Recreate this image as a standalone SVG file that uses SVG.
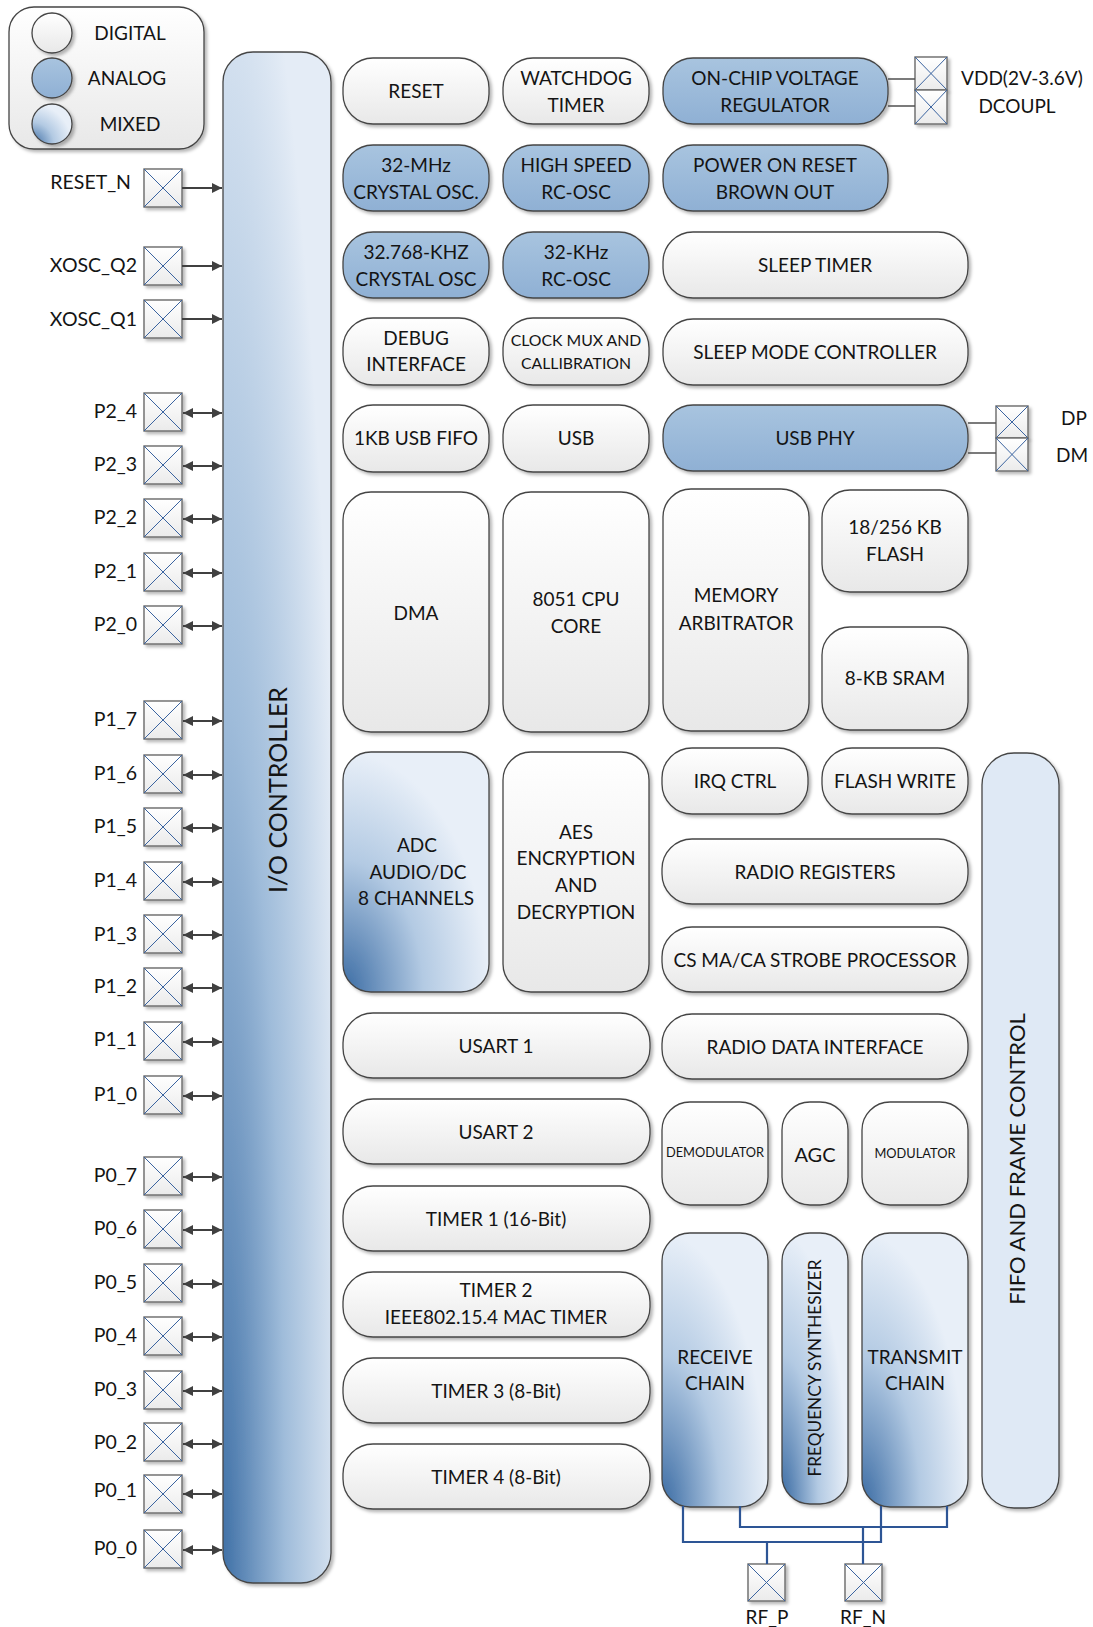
<svg xmlns="http://www.w3.org/2000/svg" width="1093" height="1627" viewBox="0 0 1093 1627">
<style>
.t{font-family:Lato,"Liberation Sans",sans-serif;font-size:19px;fill:#141414;text-anchor:middle}
.pl{font-family:Lato,"Liberation Sans",sans-serif;font-size:19.5px;fill:#141414;text-anchor:end}
.sm{font-size:15.8px}
.xs{font-size:12.8px}
.dg{fill:url(#gDig);stroke:#454545;stroke-width:1.3;filter:url(#sh)}
.an{fill:url(#gAn);stroke:#454545;stroke-width:1.3;filter:url(#sh)}
.mx{fill:url(#gMx);stroke:#454545;stroke-width:1.3;filter:url(#sh)}
.pin rect{fill:url(#gPin);stroke:#6a6a6a;stroke-width:1.4;filter:url(#sh)}
.pin path{stroke:#3b64a0;stroke-width:1;fill:none}
.ar{stroke:#404040;stroke-width:2.2;fill:none}
.pw{stroke:#505050;stroke-width:1.6;fill:none}
.rf{stroke:#2d5595;stroke-width:2.2;fill:none}
</style>
<defs>
<filter id="sh" x="-10%" y="-10%" width="130%" height="130%">
<feDropShadow dx="2.5" dy="2.5" stdDeviation="1.4" flood-color="#000" flood-opacity="0.28"/>
</filter>
<linearGradient id="gDig" x1="0" y1="0" x2="0" y2="1"><stop offset="0" stop-color="#ffffff"/><stop offset="1" stop-color="#e8e8e8"/></linearGradient>
<linearGradient id="gAn" x1="0" y1="0" x2="0" y2="1"><stop offset="0" stop-color="#a8c4df"/><stop offset="1" stop-color="#8fb0d4"/></linearGradient>
<radialGradient id="gMx" cx="0" cy="1" r="1" fx="0" fy="1"><stop offset="0" stop-color="#3a6ba3"/><stop offset="0.55" stop-color="#b3cae3"/><stop offset="1" stop-color="#e8eff8"/></radialGradient>
<radialGradient id="gIO" cx="0" cy="1" r="1.15" fx="0" fy="1"><stop offset="0" stop-color="#3f70a6"/><stop offset="0.5" stop-color="#9fbcda"/><stop offset="1" stop-color="#e4ecf6"/></radialGradient>
<linearGradient id="gPin" x1="0" y1="0" x2="0" y2="1"><stop offset="0" stop-color="#ffffff"/><stop offset="1" stop-color="#ebebeb"/></linearGradient>
<marker id="ah" viewBox="0 0 10 10" refX="10" refY="5" markerUnits="userSpaceOnUse" markerWidth="11" markerHeight="10" orient="auto-start-reverse"><path d="M0,0 L10,5 L0,10 z" fill="#404040"/></marker>
</defs>

<g id="legend">
<rect x="9" y="7" width="195" height="142" rx="25" class="dg"/>
<circle cx="52" cy="33" r="20" class="dg"/>
<circle cx="52" cy="78" r="20" class="an"/>
<circle cx="52" cy="124" r="20" class="mx"/>
<text x="130" y="40" class="t">DIGITAL</text>
<text x="127" y="85" class="t">ANALOG</text>
<text x="130" y="131" class="t">MIXED</text>
</g>

<g id="io-controller">
<rect x="223" y="52" width="108" height="1531" rx="30" fill="url(#gIO)" stroke="#454545" stroke-width="1.3" filter="url(#sh)"/>
<text class="t" transform="translate(278,790) rotate(-90)" y="9" style="font-size:25px">I/O CONTROLLER</text>
</g>

<g id="pins-left">
<g class="pin" id="pin-reset-n"><rect x="144" y="169" width="38" height="38"/><path d="M144,169 L182,207 M182,169 L144,207"/><text class="pl" x="131" y="189">RESET_N</text></g>
<g class="pin" id="pin-xosc-q2"><rect x="144" y="247" width="38" height="38"/><path d="M144,247 L182,285 M182,247 L144,285"/><text class="pl" x="137" y="272">XOSC_Q2</text></g>
<g class="pin" id="pin-xosc-q1"><rect x="144" y="300" width="38" height="38"/><path d="M144,300 L182,338 M182,300 L144,338"/><text class="pl" x="137" y="326">XOSC_Q1</text></g>

<g class="pin" id="pin-p2-4"><rect x="144" y="393" width="38" height="38"/><path d="M144,393 L182,431 M182,393 L144,431"/><text class="pl" x="137" y="418">P2_4</text></g>
<g class="pin" id="pin-p2-3"><rect x="144" y="446" width="38" height="38"/><path d="M144,446 L182,484 M182,446 L144,484"/><text class="pl" x="137" y="471">P2_3</text></g>
<g class="pin" id="pin-p2-2"><rect x="144" y="499" width="38" height="38"/><path d="M144,499 L182,537 M182,499 L144,537"/><text class="pl" x="137" y="524">P2_2</text></g>
<g class="pin" id="pin-p2-1"><rect x="144" y="553" width="38" height="38"/><path d="M144,553 L182,591 M182,553 L144,591"/><text class="pl" x="137" y="578">P2_1</text></g>
<g class="pin" id="pin-p2-0"><rect x="144" y="606" width="38" height="38"/><path d="M144,606 L182,644 M182,606 L144,644"/><text class="pl" x="137" y="631">P2_0</text></g>

<g class="pin" id="pin-p1-7"><rect x="144" y="701" width="38" height="38"/><path d="M144,701 L182,739 M182,701 L144,739"/><text class="pl" x="137" y="726">P1_7</text></g>
<g class="pin" id="pin-p1-6"><rect x="144" y="755" width="38" height="38"/><path d="M144,755 L182,793 M182,755 L144,793"/><text class="pl" x="137" y="780">P1_6</text></g>
<g class="pin" id="pin-p1-5"><rect x="144" y="808" width="38" height="38"/><path d="M144,808 L182,846 M182,808 L144,846"/><text class="pl" x="137" y="833">P1_5</text></g>
<g class="pin" id="pin-p1-4"><rect x="144" y="862" width="38" height="38"/><path d="M144,862 L182,900 M182,862 L144,900"/><text class="pl" x="137" y="887">P1_4</text></g>
<g class="pin" id="pin-p1-3"><rect x="144" y="915" width="38" height="38"/><path d="M144,915 L182,953 M182,915 L144,953"/><text class="pl" x="137" y="941">P1_3</text></g>
<g class="pin" id="pin-p1-2"><rect x="144" y="968" width="38" height="38"/><path d="M144,968 L182,1006 M182,968 L144,1006"/><text class="pl" x="137" y="993">P1_2</text></g>
<g class="pin" id="pin-p1-1"><rect x="144" y="1022" width="38" height="38"/><path d="M144,1022 L182,1060 M182,1022 L144,1060"/><text class="pl" x="137" y="1046">P1_1</text></g>
<g class="pin" id="pin-p1-0"><rect x="144" y="1076" width="38" height="38"/><path d="M144,1076 L182,1114 M182,1076 L144,1114"/><text class="pl" x="137" y="1101">P1_0</text></g>

<g class="pin" id="pin-p0-7"><rect x="144" y="1157" width="38" height="38"/><path d="M144,1157 L182,1195 M182,1157 L144,1195"/><text class="pl" x="137" y="1182">P0_7</text></g>
<g class="pin" id="pin-p0-6"><rect x="144" y="1210" width="38" height="38"/><path d="M144,1210 L182,1248 M182,1210 L144,1248"/><text class="pl" x="137" y="1235">P0_6</text></g>
<g class="pin" id="pin-p0-5"><rect x="144" y="1264" width="38" height="38"/><path d="M144,1264 L182,1302 M182,1264 L144,1302"/><text class="pl" x="137" y="1289">P0_5</text></g>
<g class="pin" id="pin-p0-4"><rect x="144" y="1317" width="38" height="38"/><path d="M144,1317 L182,1355 M182,1317 L144,1355"/><text class="pl" x="137" y="1342">P0_4</text></g>
<g class="pin" id="pin-p0-3"><rect x="144" y="1371" width="38" height="38"/><path d="M144,1371 L182,1409 M182,1371 L144,1409"/><text class="pl" x="137" y="1396">P0_3</text></g>
<g class="pin" id="pin-p0-2"><rect x="144" y="1423" width="38" height="38"/><path d="M144,1423 L182,1461 M182,1423 L144,1461"/><text class="pl" x="137" y="1449">P0_2</text></g>
<g class="pin" id="pin-p0-1"><rect x="144" y="1475" width="38" height="38"/><path d="M144,1475 L182,1513 M182,1475 L144,1513"/><text class="pl" x="137" y="1497">P0_1</text></g>
<g class="pin" id="pin-p0-0"><rect x="144" y="1530" width="38" height="38"/><path d="M144,1530 L182,1568 M182,1530 L144,1568"/><text class="pl" x="137" y="1555">P0_0</text></g>
</g>

<g id="pins-right">
<g class="pin" id="pin-vdd"><rect x="915" y="57" width="32" height="33"/><path d="M915,57 L947,90 M947,57 L915,90"/></g>
<g class="pin" id="pin-dcoupl"><rect x="915" y="90" width="32" height="34"/><path d="M915,90 L947,124 M947,90 L915,124"/></g>
<text class="t" x="1022" y="85">VDD(2V-3.6V)</text>
<text class="t" x="1017" y="113">DCOUPL</text>
<g class="pin" id="pin-dp"><rect x="996" y="406" width="32" height="32"/><path d="M996,406 L1028,438 M1028,406 L996,438"/></g>
<g class="pin" id="pin-dm"><rect x="996" y="438" width="32" height="33"/><path d="M996,438 L1028,471 M1028,438 L996,471"/></g>
<text class="t" x="1074" y="425">DP</text>
<text class="t" x="1072" y="462">DM</text>
<g class="pin" id="pin-rf-p"><rect x="748" y="1564" width="37" height="37"/><path d="M748,1564 L785,1601 M785,1564 L748,1601"/></g>
<g class="pin" id="pin-rf-n"><rect x="845" y="1564" width="37" height="37"/><path d="M845,1564 L882,1601 M882,1564 L845,1601"/></g>
<text class="t" x="767" y="1624">RF_P</text>
<text class="t" x="863" y="1624">RF_N</text>
</g>

<g id="blocks">
<g id="reset"><rect x="343" y="58" width="146" height="66" rx="30" class="dg"/><text class="t" x="416" y="98">RESET</text></g>
<g id="watchdog"><rect x="503" y="58" width="146" height="66" rx="30" class="dg"/><text class="t" x="576" y="85">WATCHDOG</text><text class="t" x="576" y="112">TIMER</text></g>
<g id="vreg"><rect x="663" y="58" width="225" height="66" rx="30" class="an"/><text class="t" x="775" y="85">ON-CHIP VOLTAGE</text><text class="t" x="775" y="112">REGULATOR</text></g>

<g id="xosc32m"><rect x="343" y="145" width="146" height="66" rx="30" class="an"/><text class="t" x="416" y="172">32-MHz</text><text class="t" x="416" y="199">CRYSTAL OSC.</text></g>
<g id="hsrcosc"><rect x="503" y="145" width="146" height="66" rx="30" class="an"/><text class="t" x="576" y="172">HIGH SPEED</text><text class="t" x="576" y="199">RC-OSC</text></g>
<g id="por"><rect x="663" y="145" width="225" height="66" rx="30" class="an"/><text class="t" x="775" y="172">POWER ON RESET</text><text class="t" x="775" y="199">BROWN OUT</text></g>

<g id="xosc32k"><rect x="343" y="232" width="146" height="66" rx="30" class="an"/><text class="t" x="416" y="259">32.768-KHZ</text><text class="t" x="416" y="286">CRYSTAL OSC</text></g>
<g id="rcosc32k"><rect x="503" y="232" width="146" height="66" rx="30" class="an"/><text class="t" x="576" y="259">32-KHz</text><text class="t" x="576" y="286">RC-OSC</text></g>
<g id="sleeptimer"><rect x="663" y="232" width="305" height="66" rx="30" class="dg"/><text class="t" x="815" y="272">SLEEP TIMER</text></g>

<g id="debug"><rect x="343" y="318" width="146" height="67" rx="30" class="dg"/><text class="t" x="416" y="345">DEBUG</text><text class="t" x="416" y="371">INTERFACE</text></g>
<g id="clockmux"><rect x="503" y="318" width="146" height="67" rx="30" class="dg"/><text class="t sm" x="576" y="346">CLOCK MUX AND</text><text class="t sm" x="576" y="369">CALLIBRATION</text></g>
<g id="sleepmode"><rect x="663" y="319" width="305" height="66" rx="30" class="dg"/><text class="t" x="815" y="359">SLEEP MODE CONTROLLER</text></g>

<g id="usbfifo"><rect x="343" y="405" width="146" height="67" rx="30" class="dg"/><text class="t" x="416" y="445">1KB USB FIFO</text></g>
<g id="usb"><rect x="503" y="405" width="146" height="67" rx="30" class="dg"/><text class="t" x="576" y="445">USB</text></g>
<g id="usbphy"><rect x="663" y="405" width="305" height="66" rx="30" class="an"/><text class="t" x="815" y="445">USB PHY</text></g>

<g id="dma"><rect x="343" y="492" width="146" height="240" rx="28" class="dg"/><text class="t" x="416" y="620">DMA</text></g>
<g id="cpu"><rect x="503" y="492" width="146" height="240" rx="28" class="dg"/><text class="t" x="576" y="606">8051 CPU</text><text class="t" x="576" y="633">CORE</text></g>
<g id="memarb"><rect x="663" y="489" width="146" height="242" rx="28" class="dg"/><text class="t" x="736" y="602">MEMORY</text><text class="t" x="736" y="630">ARBITRATOR</text></g>
<g id="flash"><rect x="822" y="490" width="146" height="102" rx="28" class="dg"/><text class="t" x="895" y="534">18/256 KB</text><text class="t" x="895" y="561">FLASH</text></g>
<g id="sram"><rect x="822" y="627" width="146" height="103" rx="28" class="dg"/><text class="t" x="895" y="685">8-KB SRAM</text></g>

<g id="adc"><rect x="343" y="752" width="146" height="240" rx="28" class="mx"/><text class="t" x="417" y="852">ADC</text><text class="t" x="418" y="879">AUDIO/DC</text><text class="t" x="416" y="905">8 CHANNELS</text></g>
<g id="aes"><rect x="503" y="752" width="146" height="240" rx="28" class="dg"/><text class="t" x="576" y="839">AES</text><text class="t" x="576" y="865">ENCRYPTION</text><text class="t" x="576" y="892">AND</text><text class="t" x="576" y="919">DECRYPTION</text></g>
<g id="irq"><rect x="662" y="748" width="146" height="66" rx="30" class="dg"/><text class="t" x="735" y="788">IRQ CTRL</text></g>
<g id="flashwrite"><rect x="822" y="748" width="146" height="66" rx="30" class="dg"/><text class="t" x="895" y="788">FLASH WRITE</text></g>
<g id="radioregs"><rect x="662" y="839" width="306" height="65" rx="30" class="dg"/><text class="t" x="815" y="879">RADIO REGISTERS</text></g>
<g id="csma"><rect x="662" y="927" width="306" height="65" rx="30" class="dg"/><text class="t" x="815" y="967">CS MA/CA STROBE PROCESSOR</text></g>
<g id="fifo"><rect x="982" y="753" width="77" height="755" rx="32" fill="#dfe9f5" stroke="#454545" stroke-width="1.3" filter="url(#sh)"/><text class="t" transform="translate(1017,1159) rotate(-90)" y="8" style="font-size:22px">FIFO AND FRAME CONTROL</text></g>

<g id="usart1"><rect x="343" y="1013" width="307" height="65" rx="30" class="dg"/><text class="t" x="496" y="1053">USART 1</text></g>
<g id="usart2"><rect x="343" y="1099" width="307" height="65" rx="30" class="dg"/><text class="t" x="496" y="1139">USART 2</text></g>
<g id="timer1"><rect x="343" y="1186" width="307" height="65" rx="30" class="dg"/><text class="t" x="496" y="1226">TIMER 1 (16-Bit)</text></g>
<g id="timer2"><rect x="343" y="1272" width="307" height="65" rx="30" class="dg"/><text class="t" x="496" y="1297">TIMER 2</text><text class="t" x="496" y="1324">IEEE802.15.4 MAC TIMER</text></g>
<g id="timer3"><rect x="343" y="1358" width="307" height="65" rx="30" class="dg"/><text class="t" x="496" y="1398">TIMER 3 (8-Bit)</text></g>
<g id="timer4"><rect x="343" y="1444" width="307" height="65" rx="30" class="dg"/><text class="t" x="496" y="1484">TIMER 4 (8-Bit)</text></g>

<g id="radiodata"><rect x="662" y="1014" width="306" height="65" rx="30" class="dg"/><text class="t" x="815" y="1054">RADIO DATA INTERFACE</text></g>
<g id="demod"><rect x="662" y="1102" width="106" height="103" rx="28" class="dg"/><text class="t xs" x="715" y="1157">DEMODULATOR</text></g>
<g id="agc"><rect x="782" y="1102" width="66" height="103" rx="28" class="dg"/><text class="t" x="815" y="1162" style="font-size:20px">AGC</text></g>
<g id="mod"><rect x="862" y="1102" width="106" height="103" rx="28" class="dg"/><text class="t xs" x="915" y="1158">MODULATOR</text></g>
<g id="rxchain"><rect x="662" y="1233" width="106" height="274" rx="28" class="mx"/><text class="t" x="715" y="1364">RECEIVE</text><text class="t" x="715" y="1390">CHAIN</text></g>
<g id="freqsynth"><rect x="782" y="1233" width="66" height="271" rx="28" class="mx"/><text class="t" transform="translate(815,1368) rotate(-90)" y="6" style="font-size:17.2px">FREQUENCY SYNTHESIZER</text></g>
<g id="txchain"><rect x="862" y="1233" width="106" height="274" rx="28" class="mx"/><text class="t" x="915" y="1364">TRANSMIT</text><text class="t" x="915" y="1390">CHAIN</text></g>
</g>

<g id="connectors">
<path class="ar" d="M182,188 H222" marker-end="url(#ah)"/>
<path class="ar" d="M182,266 H222" marker-end="url(#ah)"/>
<path class="ar" d="M182,319 H222" marker-end="url(#ah)"/>
<g marker-start="url(#ah)" marker-end="url(#ah)">
<path class="ar" d="M183,413 H222"/>
<path class="ar" d="M183,466 H222"/>
<path class="ar" d="M183,519 H222"/>
<path class="ar" d="M183,573 H222"/>
<path class="ar" d="M183,626 H222"/>
<path class="ar" d="M183,721 H222"/>
<path class="ar" d="M183,775 H222"/>
<path class="ar" d="M183,828 H222"/>
<path class="ar" d="M183,882 H222"/>
<path class="ar" d="M183,935 H222"/>
<path class="ar" d="M183,988 H222"/>
<path class="ar" d="M183,1042 H222"/>
<path class="ar" d="M183,1096 H222"/>
<path class="ar" d="M183,1177 H222"/>
<path class="ar" d="M183,1230 H222"/>
<path class="ar" d="M183,1284 H222"/>
<path class="ar" d="M183,1337 H222"/>
<path class="ar" d="M183,1391 H222"/>
<path class="ar" d="M183,1444 H222"/>
<path class="ar" d="M183,1494 H222"/>
<path class="ar" d="M183,1550 H222"/>
</g>
<path class="pw" d="M888,79 H915 M888,106 H915"/>
<path class="pw" d="M968,423 H996 M968,453 H996"/>
<path class="rf" d="M683,1506 V1542 H881 V1506 M767,1542 V1564"/>
<path class="rf" d="M740,1506 V1527 H947 V1506 M863,1527 V1564"/>
</g>
</svg>
